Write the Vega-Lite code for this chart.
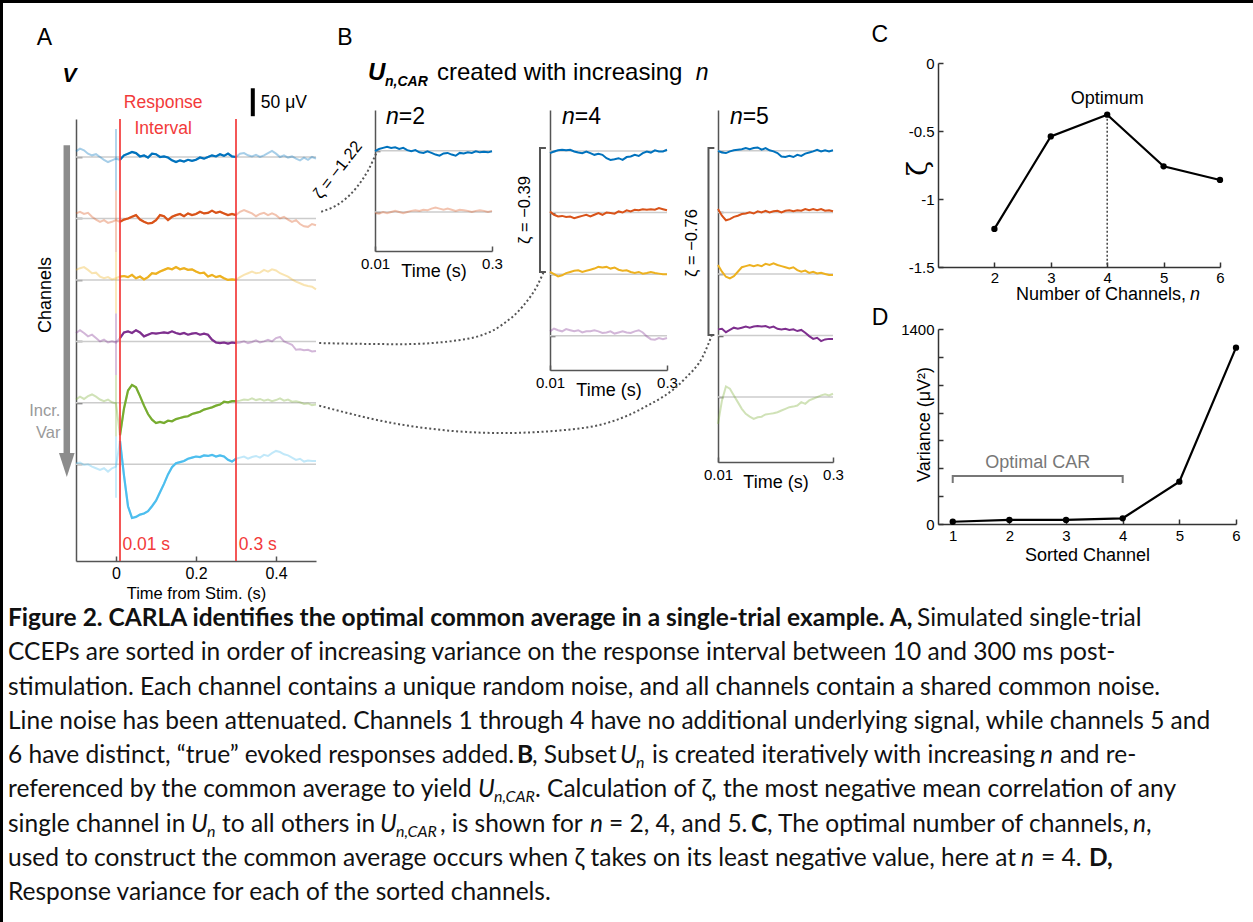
{
"$schema":"https://vega.github.io/schema/vega-lite/v6.json",
"width":1253,"height":922,"autosize":{"type":"none"},"padding":0,"background":"white",
"config":{"view":{"stroke":null},"axis":{"labelFont":"Liberation Sans","titleFont":"Liberation Sans","labelColor":"#000","titleColor":"#000","titleFontWeight":"normal","grid":false,"domainWidth":1.5,"tickWidth":1.5},"text":{"font":"Liberation Sans"}},
"datasets":{
"chans":[{"c":1},{"c":2},{"c":3},{"c":4},{"c":5},{"c":6}],
"trA":[
{"c":1,"t":-0.1,"v":10},{"c":1,"t":-0.09,"v":15},{"c":1,"t":-0.08,"v":12},{"c":1,"t":-0.07,"v":6},{"c":1,"t":-0.06,"v":3},{"c":1,"t":-0.05,"v":5},{"c":1,"t":-0.04,"v":0},{"c":1,"t":-0.03,"v":-5},{"c":1,"t":-0.02,"v":-9},{"c":1,"t":-0.01,"v":-6},{"c":1,"t":0,"v":-3},
{"c":1,"t":0.01,"v":-5},{"c":1,"t":0.02,"v":3},{"c":1,"t":0.03,"v":6},{"c":1,"t":0.04,"v":9},{"c":1,"t":0.05,"v":7},{"c":1,"t":0.06,"v":1},{"c":1,"t":0.07,"v":3},{"c":1,"t":0.08,"v":-1},{"c":1,"t":0.09,"v":6},{"c":1,"t":0.1,"v":5},
{"c":1,"t":0.11,"v":0},{"c":1,"t":0.12,"v":1},{"c":1,"t":0.13,"v":-1},{"c":1,"t":0.14,"v":-6},{"c":1,"t":0.15,"v":-9},{"c":1,"t":0.16,"v":-6},{"c":1,"t":0.17,"v":-8},{"c":1,"t":0.18,"v":-5},{"c":1,"t":0.19,"v":-7},{"c":1,"t":0.2,"v":-5},
{"c":1,"t":0.21,"v":-1},{"c":1,"t":0.22,"v":-3},{"c":1,"t":0.23,"v":0},{"c":1,"t":0.24,"v":3},{"c":1,"t":0.25,"v":1},{"c":1,"t":0.26,"v":5},{"c":1,"t":0.27,"v":2},{"c":1,"t":0.28,"v":6},{"c":1,"t":0.29,"v":1},{"c":1,"t":0.3,"v":0},
{"c":1,"t":0.31,"v":6},{"c":1,"t":0.32,"v":7},{"c":1,"t":0.33,"v":3},{"c":1,"t":0.34,"v":1},{"c":1,"t":0.35,"v":4},{"c":1,"t":0.36,"v":0},{"c":1,"t":0.37,"v":3},{"c":1,"t":0.38,"v":7},{"c":1,"t":0.39,"v":11},{"c":1,"t":0.4,"v":6},
{"c":1,"t":0.41,"v":0},{"c":1,"t":0.42,"v":3},{"c":1,"t":0.43,"v":-1},{"c":1,"t":0.44,"v":1},{"c":1,"t":0.45,"v":-3},{"c":1,"t":0.46,"v":-6},{"c":1,"t":0.47,"v":-1},{"c":1,"t":0.48,"v":-5},{"c":1,"t":0.49,"v":0},{"c":1,"t":0.5,"v":-3},
{"c":2,"t":-0.1,"v":9},{"c":2,"t":-0.09,"v":12},{"c":2,"t":-0.08,"v":8},{"c":2,"t":-0.07,"v":10},{"c":2,"t":-0.06,"v":3},{"c":2,"t":-0.05,"v":-2},{"c":2,"t":-0.04,"v":-6},{"c":2,"t":-0.03,"v":-3},{"c":2,"t":-0.02,"v":-8},{"c":2,"t":-0.01,"v":-6},{"c":2,"t":0,"v":-3},
{"c":2,"t":0.01,"v":-6},{"c":2,"t":0.02,"v":-2},{"c":2,"t":0.03,"v":0},{"c":2,"t":0.04,"v":3},{"c":2,"t":0.05,"v":6},{"c":2,"t":0.06,"v":-2},{"c":2,"t":0.07,"v":-6},{"c":2,"t":0.08,"v":-9},{"c":2,"t":0.09,"v":-8},{"c":2,"t":0.1,"v":-3},
{"c":2,"t":0.11,"v":6},{"c":2,"t":0.12,"v":4},{"c":2,"t":0.13,"v":-3},{"c":2,"t":0.14,"v":3},{"c":2,"t":0.15,"v":6},{"c":2,"t":0.16,"v":8},{"c":2,"t":0.17,"v":4},{"c":2,"t":0.18,"v":9},{"c":2,"t":0.19,"v":6},{"c":2,"t":0.2,"v":8},
{"c":2,"t":0.21,"v":12},{"c":2,"t":0.22,"v":9},{"c":2,"t":0.23,"v":10},{"c":2,"t":0.24,"v":14},{"c":2,"t":0.25,"v":10},{"c":2,"t":0.26,"v":12},{"c":2,"t":0.27,"v":9},{"c":2,"t":0.28,"v":6},{"c":2,"t":0.29,"v":8},{"c":2,"t":0.3,"v":6},
{"c":2,"t":0.31,"v":12},{"c":2,"t":0.32,"v":15},{"c":2,"t":0.33,"v":12},{"c":2,"t":0.34,"v":9},{"c":2,"t":0.35,"v":4},{"c":2,"t":0.36,"v":8},{"c":2,"t":0.37,"v":10},{"c":2,"t":0.38,"v":6},{"c":2,"t":0.39,"v":9},{"c":2,"t":0.4,"v":6},
{"c":2,"t":0.41,"v":0},{"c":2,"t":0.42,"v":3},{"c":2,"t":0.43,"v":-2},{"c":2,"t":0.44,"v":-6},{"c":2,"t":0.45,"v":-3},{"c":2,"t":0.46,"v":-10},{"c":2,"t":0.47,"v":-14},{"c":2,"t":0.48,"v":-15},{"c":2,"t":0.49,"v":-10},{"c":2,"t":0.5,"v":-12},
{"c":3,"t":-0.1,"v":18},{"c":3,"t":-0.09,"v":21},{"c":3,"t":-0.08,"v":23},{"c":3,"t":-0.07,"v":18},{"c":3,"t":-0.06,"v":12},{"c":3,"t":-0.05,"v":13},{"c":3,"t":-0.04,"v":6},{"c":3,"t":-0.03,"v":3},{"c":3,"t":-0.02,"v":5},{"c":3,"t":-0.01,"v":1},{"c":3,"t":0,"v":3},
{"c":3,"t":0.01,"v":6},{"c":3,"t":0.02,"v":7},{"c":3,"t":0.03,"v":5},{"c":3,"t":0.04,"v":9},{"c":3,"t":0.05,"v":3},{"c":3,"t":0.06,"v":6},{"c":3,"t":0.07,"v":1},{"c":3,"t":0.08,"v":5},{"c":3,"t":0.09,"v":12},{"c":3,"t":0.1,"v":11},
{"c":3,"t":0.11,"v":15},{"c":3,"t":0.12,"v":18},{"c":3,"t":0.13,"v":21},{"c":3,"t":0.14,"v":19},{"c":3,"t":0.15,"v":23},{"c":3,"t":0.16,"v":19},{"c":3,"t":0.17,"v":21},{"c":3,"t":0.18,"v":18},{"c":3,"t":0.19,"v":19},{"c":3,"t":0.2,"v":15},
{"c":3,"t":0.21,"v":12},{"c":3,"t":0.22,"v":13},{"c":3,"t":0.23,"v":6},{"c":3,"t":0.24,"v":9},{"c":3,"t":0.25,"v":5},{"c":3,"t":0.26,"v":7},{"c":3,"t":0.27,"v":3},{"c":3,"t":0.28,"v":0},{"c":3,"t":0.29,"v":1},{"c":3,"t":0.3,"v":0},
{"c":3,"t":0.31,"v":5},{"c":3,"t":0.32,"v":9},{"c":3,"t":0.33,"v":12},{"c":3,"t":0.34,"v":15},{"c":3,"t":0.35,"v":12},{"c":3,"t":0.36,"v":13},{"c":3,"t":0.37,"v":18},{"c":3,"t":0.38,"v":15},{"c":3,"t":0.39,"v":19},{"c":3,"t":0.4,"v":17},
{"c":3,"t":0.41,"v":12},{"c":3,"t":0.42,"v":9},{"c":3,"t":0.43,"v":6},{"c":3,"t":0.44,"v":1},{"c":3,"t":0.45,"v":-3},{"c":3,"t":0.46,"v":-6},{"c":3,"t":0.47,"v":-9},{"c":3,"t":0.48,"v":-11},{"c":3,"t":0.49,"v":-12},{"c":3,"t":0.5,"v":-17},
{"c":4,"t":-0.1,"v":15},{"c":4,"t":-0.09,"v":20},{"c":4,"t":-0.08,"v":15},{"c":4,"t":-0.07,"v":9},{"c":4,"t":-0.06,"v":12},{"c":4,"t":-0.05,"v":6},{"c":4,"t":-0.04,"v":0},{"c":4,"t":-0.03,"v":3},{"c":4,"t":-0.02,"v":-2},{"c":4,"t":-0.01,"v":0},{"c":4,"t":0,"v":-2},
{"c":4,"t":0.01,"v":6},{"c":4,"t":0.02,"v":16},{"c":4,"t":0.03,"v":18},{"c":4,"t":0.04,"v":15},{"c":4,"t":0.05,"v":20},{"c":4,"t":0.06,"v":16},{"c":4,"t":0.07,"v":9},{"c":4,"t":0.08,"v":12},{"c":4,"t":0.09,"v":15},{"c":4,"t":0.1,"v":14},
{"c":4,"t":0.11,"v":15},{"c":4,"t":0.12,"v":16},{"c":4,"t":0.13,"v":15},{"c":4,"t":0.14,"v":18},{"c":4,"t":0.15,"v":15},{"c":4,"t":0.16,"v":13},{"c":4,"t":0.17,"v":15},{"c":4,"t":0.18,"v":12},{"c":4,"t":0.19,"v":14},{"c":4,"t":0.2,"v":15},
{"c":4,"t":0.21,"v":12},{"c":4,"t":0.22,"v":14},{"c":4,"t":0.23,"v":12},{"c":4,"t":0.24,"v":3},{"c":4,"t":0.25,"v":-2},{"c":4,"t":0.26,"v":-3},{"c":4,"t":0.27,"v":-2},{"c":4,"t":0.28,"v":-4},{"c":4,"t":0.29,"v":-2},{"c":4,"t":0.3,"v":-3},
{"c":4,"t":0.31,"v":-2},{"c":4,"t":0.32,"v":0},{"c":4,"t":0.33,"v":-3},{"c":4,"t":0.34,"v":-1},{"c":4,"t":0.35,"v":2},{"c":4,"t":0.36,"v":-2},{"c":4,"t":0.37,"v":0},{"c":4,"t":0.38,"v":3},{"c":4,"t":0.39,"v":0},{"c":4,"t":0.4,"v":6},
{"c":4,"t":0.41,"v":8},{"c":4,"t":0.42,"v":0},{"c":4,"t":0.43,"v":-3},{"c":4,"t":0.44,"v":-6},{"c":4,"t":0.45,"v":-15},{"c":4,"t":0.46,"v":-14},{"c":4,"t":0.47,"v":-16},{"c":4,"t":0.48,"v":-15},{"c":4,"t":0.49,"v":-18},{"c":4,"t":0.5,"v":-17},
{"c":5,"t":-0.1,"v":6},{"c":5,"t":-0.09,"v":11},{"c":5,"t":-0.08,"v":7},{"c":5,"t":-0.07,"v":12},{"c":5,"t":-0.06,"v":15},{"c":5,"t":-0.05,"v":11},{"c":5,"t":-0.04,"v":6},{"c":5,"t":-0.03,"v":3},{"c":5,"t":-0.02,"v":6},{"c":5,"t":-0.01,"v":1},{"c":5,"t":0,"v":-1},
{"c":5,"t":0.01,"v":-58},{"c":5,"t":0.02,"v":-10},{"c":5,"t":0.03,"v":22},{"c":5,"t":0.04,"v":32},{"c":5,"t":0.05,"v":28},{"c":5,"t":0.06,"v":12},{"c":5,"t":0.07,"v":-5},{"c":5,"t":0.08,"v":-20},{"c":5,"t":0.09,"v":-30},{"c":5,"t":0.1,"v":-36},
{"c":5,"t":0.11,"v":-34},{"c":5,"t":0.12,"v":-36},{"c":5,"t":0.13,"v":-32},{"c":5,"t":0.14,"v":-33},{"c":5,"t":0.15,"v":-29},{"c":5,"t":0.16,"v":-27},{"c":5,"t":0.17,"v":-25},{"c":5,"t":0.18,"v":-24},{"c":5,"t":0.19,"v":-20},{"c":5,"t":0.2,"v":-18},
{"c":5,"t":0.21,"v":-16},{"c":5,"t":0.22,"v":-12},{"c":5,"t":0.23,"v":-10},{"c":5,"t":0.24,"v":-8},{"c":5,"t":0.25,"v":-5},{"c":5,"t":0.26,"v":-3},{"c":5,"t":0.27,"v":2},{"c":5,"t":0.28,"v":1},{"c":5,"t":0.29,"v":3},{"c":5,"t":0.3,"v":3},
{"c":5,"t":0.31,"v":4},{"c":5,"t":0.32,"v":6},{"c":5,"t":0.33,"v":5},{"c":5,"t":0.34,"v":8},{"c":5,"t":0.35,"v":5},{"c":5,"t":0.36,"v":7},{"c":5,"t":0.37,"v":4},{"c":5,"t":0.38,"v":6},{"c":5,"t":0.39,"v":3},{"c":5,"t":0.4,"v":5},
{"c":5,"t":0.41,"v":8},{"c":5,"t":0.42,"v":4},{"c":5,"t":0.43,"v":6},{"c":5,"t":0.44,"v":2},{"c":5,"t":0.45,"v":3},{"c":5,"t":0.46,"v":1},{"c":5,"t":0.47,"v":-2},{"c":5,"t":0.48,"v":-1},{"c":5,"t":0.49,"v":-4},{"c":5,"t":0.5,"v":-3},
{"c":6,"t":-0.1,"v":2},{"c":6,"t":-0.09,"v":3},{"c":6,"t":-0.08,"v":-1},{"c":6,"t":-0.07,"v":0},{"c":6,"t":-0.06,"v":-4},{"c":6,"t":-0.05,"v":-7},{"c":6,"t":-0.04,"v":-10},{"c":6,"t":-0.03,"v":-7},{"c":6,"t":-0.02,"v":-13},{"c":6,"t":-0.01,"v":-7},{"c":6,"t":0,"v":-4},
{"c":6,"t":0.01,"v":42},{"c":6,"t":0.02,"v":-20},{"c":6,"t":0.03,"v":-75},{"c":6,"t":0.04,"v":-96},{"c":6,"t":0.05,"v":-94},{"c":6,"t":0.06,"v":-90},{"c":6,"t":0.07,"v":-88},{"c":6,"t":0.08,"v":-84},{"c":6,"t":0.09,"v":-75},{"c":6,"t":0.1,"v":-65},
{"c":6,"t":0.11,"v":-50},{"c":6,"t":0.12,"v":-35},{"c":6,"t":0.13,"v":-18},{"c":6,"t":0.14,"v":-5},{"c":6,"t":0.15,"v":2},{"c":6,"t":0.16,"v":4},{"c":6,"t":0.17,"v":6},{"c":6,"t":0.18,"v":10},{"c":6,"t":0.19,"v":12},{"c":6,"t":0.2,"v":14},
{"c":6,"t":0.21,"v":13},{"c":6,"t":0.22,"v":16},{"c":6,"t":0.23,"v":15},{"c":6,"t":0.24,"v":17},{"c":6,"t":0.25,"v":14},{"c":6,"t":0.26,"v":16},{"c":6,"t":0.27,"v":14},{"c":6,"t":0.28,"v":8},{"c":6,"t":0.29,"v":5},{"c":6,"t":0.3,"v":10},
{"c":6,"t":0.31,"v":12},{"c":6,"t":0.32,"v":14},{"c":6,"t":0.33,"v":10},{"c":6,"t":0.34,"v":13},{"c":6,"t":0.35,"v":15},{"c":6,"t":0.36,"v":12},{"c":6,"t":0.37,"v":17},{"c":6,"t":0.38,"v":15},{"c":6,"t":0.39,"v":20},{"c":6,"t":0.4,"v":24},
{"c":6,"t":0.41,"v":22},{"c":6,"t":0.42,"v":18},{"c":6,"t":0.43,"v":16},{"c":6,"t":0.44,"v":12},{"c":6,"t":0.45,"v":8},{"c":6,"t":0.46,"v":10},{"c":6,"t":0.47,"v":5},{"c":6,"t":0.48,"v":7},{"c":6,"t":0.49,"v":6},{"c":6,"t":0.5,"v":6}
],
"trB":[
{"n":2,"c":1,"t":0.01,"v":-1},{"n":2,"c":1,"t":0.02,"v":3},{"n":2,"c":1,"t":0.03,"v":5},{"n":2,"c":1,"t":0.04,"v":7},{"n":2,"c":1,"t":0.05,"v":5},{"n":2,"c":1,"t":0.06,"v":6},{"n":2,"c":1,"t":0.07,"v":3},{"n":2,"c":1,"t":0.08,"v":5},{"n":2,"c":1,"t":0.09,"v":1},{"n":2,"c":1,"t":0.1,"v":-1},
{"n":2,"c":1,"t":0.11,"v":1},{"n":2,"c":1,"t":0.12,"v":-3},{"n":2,"c":1,"t":0.13,"v":-4},{"n":2,"c":1,"t":0.14,"v":-1},{"n":2,"c":1,"t":0.15,"v":-4},{"n":2,"c":1,"t":0.16,"v":-7},{"n":2,"c":1,"t":0.17,"v":-9},{"n":2,"c":1,"t":0.18,"v":-5},{"n":2,"c":1,"t":0.19,"v":-4},{"n":2,"c":1,"t":0.2,"v":-7},
{"n":2,"c":1,"t":0.21,"v":-9},{"n":2,"c":1,"t":0.22,"v":-4},{"n":2,"c":1,"t":0.23,"v":-5},{"n":2,"c":1,"t":0.24,"v":-3},{"n":2,"c":1,"t":0.25,"v":-4},{"n":2,"c":1,"t":0.26,"v":-1},{"n":2,"c":1,"t":0.27,"v":-3},{"n":2,"c":1,"t":0.28,"v":-2},{"n":2,"c":1,"t":0.29,"v":-3},{"n":2,"c":1,"t":0.3,"v":-1},
{"n":2,"c":2,"t":0.01,"v":-2},{"n":2,"c":2,"t":0.02,"v":-3},{"n":2,"c":2,"t":0.03,"v":0},{"n":2,"c":2,"t":0.04,"v":-2},{"n":2,"c":2,"t":0.05,"v":0},{"n":2,"c":2,"t":0.06,"v":2},{"n":2,"c":2,"t":0.07,"v":0},{"n":2,"c":2,"t":0.08,"v":-2},{"n":2,"c":2,"t":0.09,"v":0},{"n":2,"c":2,"t":0.1,"v":2},
{"n":2,"c":2,"t":0.11,"v":3},{"n":2,"c":2,"t":0.12,"v":2},{"n":2,"c":2,"t":0.13,"v":4},{"n":2,"c":2,"t":0.14,"v":3},{"n":2,"c":2,"t":0.15,"v":6},{"n":2,"c":2,"t":0.16,"v":8},{"n":2,"c":2,"t":0.17,"v":6},{"n":2,"c":2,"t":0.18,"v":4},{"n":2,"c":2,"t":0.19,"v":6},{"n":2,"c":2,"t":0.2,"v":4},
{"n":2,"c":2,"t":0.21,"v":2},{"n":2,"c":2,"t":0.22,"v":4},{"n":2,"c":2,"t":0.23,"v":3},{"n":2,"c":2,"t":0.24,"v":2},{"n":2,"c":2,"t":0.25,"v":0},{"n":2,"c":2,"t":0.26,"v":2},{"n":2,"c":2,"t":0.27,"v":3},{"n":2,"c":2,"t":0.28,"v":2},{"n":2,"c":2,"t":0.29,"v":0},{"n":2,"c":2,"t":0.3,"v":2},
{"n":4,"c":1,"t":0.01,"v":-4},{"n":4,"c":1,"t":0.02,"v":-1},{"n":4,"c":1,"t":0.03,"v":1},{"n":4,"c":1,"t":0.04,"v":2},{"n":4,"c":1,"t":0.05,"v":1},{"n":4,"c":1,"t":0.06,"v":2},{"n":4,"c":1,"t":0.07,"v":-1},{"n":4,"c":1,"t":0.08,"v":-3},{"n":4,"c":1,"t":0.09,"v":-4},{"n":4,"c":1,"t":0.1,"v":-1},
{"n":4,"c":1,"t":0.11,"v":-4},{"n":4,"c":1,"t":0.12,"v":-7},{"n":4,"c":1,"t":0.13,"v":-5},{"n":4,"c":1,"t":0.14,"v":-7},{"n":4,"c":1,"t":0.15,"v":-13},{"n":4,"c":1,"t":0.16,"v":-16},{"n":4,"c":1,"t":0.17,"v":-15},{"n":4,"c":1,"t":0.18,"v":-13},{"n":4,"c":1,"t":0.19,"v":-16},{"n":4,"c":1,"t":0.2,"v":-11},
{"n":4,"c":1,"t":0.21,"v":-10},{"n":4,"c":1,"t":0.22,"v":-7},{"n":4,"c":1,"t":0.23,"v":-9},{"n":4,"c":1,"t":0.24,"v":-4},{"n":4,"c":1,"t":0.25,"v":-1},{"n":4,"c":1,"t":0.26,"v":-3},{"n":4,"c":1,"t":0.27,"v":1},{"n":4,"c":1,"t":0.28,"v":-1},{"n":4,"c":1,"t":0.29,"v":-1},{"n":4,"c":1,"t":0.3,"v":2},
{"n":4,"c":2,"t":0.01,"v":2},{"n":4,"c":2,"t":0.02,"v":-4},{"n":4,"c":2,"t":0.03,"v":-7},{"n":4,"c":2,"t":0.04,"v":-6},{"n":4,"c":2,"t":0.05,"v":-8},{"n":4,"c":2,"t":0.06,"v":-7},{"n":4,"c":2,"t":0.07,"v":-10},{"n":4,"c":2,"t":0.08,"v":-8},{"n":4,"c":2,"t":0.09,"v":-6},{"n":4,"c":2,"t":0.1,"v":-4},
{"n":4,"c":2,"t":0.11,"v":-7},{"n":4,"c":2,"t":0.12,"v":-4},{"n":4,"c":2,"t":0.13,"v":-1},{"n":4,"c":2,"t":0.14,"v":-4},{"n":4,"c":2,"t":0.15,"v":0},{"n":4,"c":2,"t":0.16,"v":-1},{"n":4,"c":2,"t":0.17,"v":-2},{"n":4,"c":2,"t":0.18,"v":2},{"n":4,"c":2,"t":0.19,"v":0},{"n":4,"c":2,"t":0.2,"v":4},
{"n":4,"c":2,"t":0.21,"v":2},{"n":4,"c":2,"t":0.22,"v":5},{"n":4,"c":2,"t":0.23,"v":4},{"n":4,"c":2,"t":0.24,"v":6},{"n":4,"c":2,"t":0.25,"v":5},{"n":4,"c":2,"t":0.26,"v":6},{"n":4,"c":2,"t":0.27,"v":5},{"n":4,"c":2,"t":0.28,"v":8},{"n":4,"c":2,"t":0.29,"v":6},{"n":4,"c":2,"t":0.3,"v":4},
{"n":4,"c":3,"t":0.01,"v":4},{"n":4,"c":3,"t":0.02,"v":0},{"n":4,"c":3,"t":0.03,"v":-4},{"n":4,"c":3,"t":0.04,"v":-2},{"n":4,"c":3,"t":0.05,"v":2},{"n":4,"c":3,"t":0.06,"v":4},{"n":4,"c":3,"t":0.07,"v":6},{"n":4,"c":3,"t":0.08,"v":7},{"n":4,"c":3,"t":0.09,"v":4},{"n":4,"c":3,"t":0.1,"v":6},
{"n":4,"c":3,"t":0.11,"v":8},{"n":4,"c":3,"t":0.12,"v":10},{"n":4,"c":3,"t":0.13,"v":13},{"n":4,"c":3,"t":0.14,"v":12},{"n":4,"c":3,"t":0.15,"v":13},{"n":4,"c":3,"t":0.16,"v":10},{"n":4,"c":3,"t":0.17,"v":12},{"n":4,"c":3,"t":0.18,"v":8},{"n":4,"c":3,"t":0.19,"v":6},{"n":4,"c":3,"t":0.2,"v":7},
{"n":4,"c":3,"t":0.21,"v":4},{"n":4,"c":3,"t":0.22,"v":2},{"n":4,"c":3,"t":0.23,"v":4},{"n":4,"c":3,"t":0.24,"v":1},{"n":4,"c":3,"t":0.25,"v":2},{"n":4,"c":3,"t":0.26,"v":4},{"n":4,"c":3,"t":0.27,"v":2},{"n":4,"c":3,"t":0.28,"v":1},{"n":4,"c":3,"t":0.29,"v":0},{"n":4,"c":3,"t":0.3,"v":0},
{"n":4,"c":4,"t":0.01,"v":8},{"n":4,"c":4,"t":0.02,"v":13},{"n":4,"c":4,"t":0.03,"v":10},{"n":4,"c":4,"t":0.04,"v":8},{"n":4,"c":4,"t":0.05,"v":12},{"n":4,"c":4,"t":0.06,"v":10},{"n":4,"c":4,"t":0.07,"v":8},{"n":4,"c":4,"t":0.08,"v":10},{"n":4,"c":4,"t":0.09,"v":6},{"n":4,"c":4,"t":0.1,"v":8},
{"n":4,"c":4,"t":0.11,"v":8},{"n":4,"c":4,"t":0.12,"v":10},{"n":4,"c":4,"t":0.13,"v":8},{"n":4,"c":4,"t":0.14,"v":5},{"n":4,"c":4,"t":0.15,"v":6},{"n":4,"c":4,"t":0.16,"v":8},{"n":4,"c":4,"t":0.17,"v":4},{"n":4,"c":4,"t":0.18,"v":6},{"n":4,"c":4,"t":0.19,"v":8},{"n":4,"c":4,"t":0.2,"v":6},
{"n":4,"c":4,"t":0.21,"v":5},{"n":4,"c":4,"t":0.22,"v":8},{"n":4,"c":4,"t":0.23,"v":10},{"n":4,"c":4,"t":0.24,"v":6},{"n":4,"c":4,"t":0.25,"v":-1},{"n":4,"c":4,"t":0.26,"v":-6},{"n":4,"c":4,"t":0.27,"v":-7},{"n":4,"c":4,"t":0.28,"v":-4},{"n":4,"c":4,"t":0.29,"v":-6},{"n":4,"c":4,"t":0.3,"v":-4},
{"n":5,"c":1,"t":0.01,"v":0},{"n":5,"c":1,"t":0.02,"v":-3},{"n":5,"c":1,"t":0.03,"v":-4},{"n":5,"c":1,"t":0.04,"v":-1},{"n":5,"c":1,"t":0.05,"v":1},{"n":5,"c":1,"t":0.06,"v":2},{"n":5,"c":1,"t":0.07,"v":3},{"n":5,"c":1,"t":0.08,"v":5},{"n":5,"c":1,"t":0.09,"v":3},{"n":5,"c":1,"t":0.1,"v":5},
{"n":5,"c":1,"t":0.11,"v":6},{"n":5,"c":1,"t":0.12,"v":2},{"n":5,"c":1,"t":0.13,"v":5},{"n":5,"c":1,"t":0.14,"v":1},{"n":5,"c":1,"t":0.15,"v":-1},{"n":5,"c":1,"t":0.16,"v":-4},{"n":5,"c":1,"t":0.17,"v":-10},{"n":5,"c":1,"t":0.18,"v":-11},{"n":5,"c":1,"t":0.19,"v":-9},{"n":5,"c":1,"t":0.2,"v":-11},
{"n":5,"c":1,"t":0.21,"v":-7},{"n":5,"c":1,"t":0.22,"v":-9},{"n":5,"c":1,"t":0.23,"v":-5},{"n":5,"c":1,"t":0.24,"v":-3},{"n":5,"c":1,"t":0.25,"v":-1},{"n":5,"c":1,"t":0.26,"v":2},{"n":5,"c":1,"t":0.27,"v":-1},{"n":5,"c":1,"t":0.28,"v":1},{"n":5,"c":1,"t":0.29,"v":-1},{"n":5,"c":1,"t":0.3,"v":1},
{"n":5,"c":2,"t":0.01,"v":6},{"n":5,"c":2,"t":0.02,"v":-6},{"n":5,"c":2,"t":0.03,"v":-14},{"n":5,"c":2,"t":0.04,"v":-12},{"n":5,"c":2,"t":0.05,"v":-8},{"n":5,"c":2,"t":0.06,"v":-6},{"n":5,"c":2,"t":0.07,"v":-3},{"n":5,"c":2,"t":0.08,"v":-2},{"n":5,"c":2,"t":0.09,"v":0},{"n":5,"c":2,"t":0.1,"v":-2},
{"n":5,"c":2,"t":0.11,"v":2},{"n":5,"c":2,"t":0.12,"v":0},{"n":5,"c":2,"t":0.13,"v":3},{"n":5,"c":2,"t":0.14,"v":0},{"n":5,"c":2,"t":0.15,"v":2},{"n":5,"c":2,"t":0.16,"v":3},{"n":5,"c":2,"t":0.17,"v":0},{"n":5,"c":2,"t":0.18,"v":3},{"n":5,"c":2,"t":0.19,"v":4},{"n":5,"c":2,"t":0.2,"v":2},
{"n":5,"c":2,"t":0.21,"v":4},{"n":5,"c":2,"t":0.22,"v":3},{"n":5,"c":2,"t":0.23,"v":6},{"n":5,"c":2,"t":0.24,"v":4},{"n":5,"c":2,"t":0.25,"v":6},{"n":5,"c":2,"t":0.26,"v":4},{"n":5,"c":2,"t":0.27,"v":6},{"n":5,"c":2,"t":0.28,"v":3},{"n":5,"c":2,"t":0.29,"v":4},{"n":5,"c":2,"t":0.3,"v":2},
{"n":5,"c":3,"t":0.01,"v":16},{"n":5,"c":3,"t":0.02,"v":4},{"n":5,"c":3,"t":0.03,"v":-5},{"n":5,"c":3,"t":0.04,"v":-8},{"n":5,"c":3,"t":0.05,"v":-4},{"n":5,"c":3,"t":0.06,"v":4},{"n":5,"c":3,"t":0.07,"v":12},{"n":5,"c":3,"t":0.08,"v":14},{"n":5,"c":3,"t":0.09,"v":16},{"n":5,"c":3,"t":0.1,"v":14},
{"n":5,"c":3,"t":0.11,"v":16},{"n":5,"c":3,"t":0.12,"v":14},{"n":5,"c":3,"t":0.13,"v":18},{"n":5,"c":3,"t":0.14,"v":16},{"n":5,"c":3,"t":0.15,"v":19},{"n":5,"c":3,"t":0.16,"v":16},{"n":5,"c":3,"t":0.17,"v":14},{"n":5,"c":3,"t":0.18,"v":12},{"n":5,"c":3,"t":0.19,"v":10},{"n":5,"c":3,"t":0.2,"v":12},
{"n":5,"c":3,"t":0.21,"v":7},{"n":5,"c":3,"t":0.22,"v":4},{"n":5,"c":3,"t":0.23,"v":6},{"n":5,"c":3,"t":0.24,"v":2},{"n":5,"c":3,"t":0.25,"v":4},{"n":5,"c":3,"t":0.26,"v":1},{"n":5,"c":3,"t":0.27,"v":2},{"n":5,"c":3,"t":0.28,"v":0},{"n":5,"c":3,"t":0.29,"v":-2},{"n":5,"c":3,"t":0.3,"v":-2},
{"n":5,"c":4,"t":0.01,"v":11},{"n":5,"c":4,"t":0.02,"v":12},{"n":5,"c":4,"t":0.03,"v":6},{"n":5,"c":4,"t":0.04,"v":10},{"n":5,"c":4,"t":0.05,"v":14},{"n":5,"c":4,"t":0.06,"v":12},{"n":5,"c":4,"t":0.07,"v":14},{"n":5,"c":4,"t":0.08,"v":16},{"n":5,"c":4,"t":0.09,"v":14},{"n":5,"c":4,"t":0.1,"v":16},
{"n":5,"c":4,"t":0.11,"v":17},{"n":5,"c":4,"t":0.12,"v":16},{"n":5,"c":4,"t":0.13,"v":17},{"n":5,"c":4,"t":0.14,"v":14},{"n":5,"c":4,"t":0.15,"v":16},{"n":5,"c":4,"t":0.16,"v":12},{"n":5,"c":4,"t":0.17,"v":11},{"n":5,"c":4,"t":0.18,"v":12},{"n":5,"c":4,"t":0.19,"v":10},{"n":5,"c":4,"t":0.2,"v":11},
{"n":5,"c":4,"t":0.21,"v":8},{"n":5,"c":4,"t":0.22,"v":10},{"n":5,"c":4,"t":0.23,"v":5},{"n":5,"c":4,"t":0.24,"v":-1},{"n":5,"c":4,"t":0.25,"v":-6},{"n":5,"c":4,"t":0.26,"v":-4},{"n":5,"c":4,"t":0.27,"v":-10},{"n":5,"c":4,"t":0.28,"v":-7},{"n":5,"c":4,"t":0.29,"v":-6},{"n":5,"c":4,"t":0.3,"v":-6},
{"n":5,"c":5,"t":0.01,"v":-48},{"n":5,"c":5,"t":0.02,"v":-6},{"n":5,"c":5,"t":0.03,"v":19},{"n":5,"c":5,"t":0.04,"v":15},{"n":5,"c":5,"t":0.05,"v":3},{"n":5,"c":5,"t":0.06,"v":-9},{"n":5,"c":5,"t":0.07,"v":-21},{"n":5,"c":5,"t":0.08,"v":-30},{"n":5,"c":5,"t":0.09,"v":-35},{"n":5,"c":5,"t":0.1,"v":-39},
{"n":5,"c":5,"t":0.11,"v":-36},{"n":5,"c":5,"t":0.12,"v":-35},{"n":5,"c":5,"t":0.13,"v":-31},{"n":5,"c":5,"t":0.14,"v":-30},{"n":5,"c":5,"t":0.15,"v":-29},{"n":5,"c":5,"t":0.16,"v":-27},{"n":5,"c":5,"t":0.17,"v":-24},{"n":5,"c":5,"t":0.18,"v":-21},{"n":5,"c":5,"t":0.19,"v":-18},{"n":5,"c":5,"t":0.2,"v":-17},
{"n":5,"c":5,"t":0.21,"v":-15},{"n":5,"c":5,"t":0.22,"v":-9},{"n":5,"c":5,"t":0.23,"v":-12},{"n":5,"c":5,"t":0.24,"v":-6},{"n":5,"c":5,"t":0.25,"v":-3},{"n":5,"c":5,"t":0.26,"v":0},{"n":5,"c":5,"t":0.27,"v":3},{"n":5,"c":5,"t":0.28,"v":5},{"n":5,"c":5,"t":0.29,"v":3},{"n":5,"c":5,"t":0.3,"v":6}
],
"zeta":[{"n":2,"z":-1.22},{"n":3,"z":-0.54},{"n":4,"z":-0.38},{"n":5,"z":-0.76},{"n":6,"z":-0.86}],
"variance":[{"ch":1,"var":16},{"ch":2,"var":29},{"ch":3,"var":29},{"ch":4,"var":41},{"ch":5,"var":304},{"ch":6,"var":1266}]
},
"layer":[
{
"encoding":{
"x":{"field":"t","type":"quantitative","scale":{"domain":[-0.1,0.5],"range":[76,316],"nice":false,"zero":false},"axis":{"orient":"bottom","offset":-361,"values":[0,0.2,0.4],"format":"~g","labelFlush":false,"tickSize":-5,"labelPadding":17,"labelBaseline":"middle","labelFontSize":16,"title":"Time from Stim. (s)","titleFontSize":16.5,"titleY":32,"titleBaseline":"middle","domainColor":"#555","tickColor":"#555"}},
"y":{"field":"y","type":"quantitative","scale":{"domain":[-723,68],"range":[561,119],"nice":false,"zero":false},"axis":{"orient":"left","offset":-76,"values":[0,-110,-220,-330,-440,-550],"labels":false,"tickSize":-6,"title":null,"domainColor":"#555","tickColor":"#555"}}
},
"layer":[
{"data":{"name":"chans"},"transform":[{"calculate":"-110*(datum.c-1)","as":"y"},{"calculate":"-0.1","as":"t"},{"calculate":"0.5","as":"t2"}],"mark":{"type":"rule","color":"#cccccc","strokeWidth":1.5},"encoding":{"x2":{"field":"t2"}}},
{"data":{"name":"chans"},"transform":[{"calculate":"-110*(datum.c-1)+50","as":"y"},{"calculate":"-110*(datum.c-1)-60","as":"y2"},{"calculate":"0","as":"t"}],"mark":{"type":"rule","strokeWidth":1.5,"opacity":0.4},"encoding":{"y2":{"field":"y2"},"color":{"field":"c","type":"nominal","scale":{"domain":[1,2,3,4,5,6],"range":["#0072BD","#D95319","#EDB120","#7E2F8E","#77AC30","#4DBEEE"]},"legend":null}}},
{"data":{"name":"trA"},"transform":[{"calculate":"datum.v-110*(datum.c-1)","as":"y"}],"mark":{"type":"line","strokeWidth":2,"opacity":0.35},"encoding":{"color":{"field":"c","type":"nominal","scale":{"domain":[1,2,3,4,5,6],"range":["#0072BD","#D95319","#EDB120","#7E2F8E","#77AC30","#4DBEEE"]},"legend":null}}},
{"data":{"name":"trA"},"transform":[{"filter":"datum.t >= 0.01 && datum.t <= 0.3"},{"calculate":"datum.v-110*(datum.c-1)","as":"y"}],"mark":{"type":"line","strokeWidth":2.2},"encoding":{"color":{"field":"c","type":"nominal","scale":{"domain":[1,2,3,4,5,6],"range":["#0072BD","#D95319","#EDB120","#7E2F8E","#77AC30","#4DBEEE"]},"legend":null}}},
{"data":{"values":[{"t":0.01},{"t":0.3}]},"transform":[{"calculate":"-723","as":"y"},{"calculate":"68","as":"y2"}],"mark":{"type":"rule","color":"#F23A3A","strokeWidth":2,"opacity":0.85},"encoding":{"y2":{"field":"y2"}}},
{"data":{"values":[{"t":0.118,"y":97,"s":"Response"},{"t":0.118,"y":50,"s":"Interval"}]},"mark":{"type":"text","fontSize":17.5,"color":"#F23A3A","align":"center","baseline":"middle"},"encoding":{"text":{"field":"s"}}},
{"data":{"values":[{"t":0.016,"y":-694,"s":"0.01 s"},{"t":0.307,"y":-694,"s":"0.3 s"}]},"mark":{"type":"text","fontSize":17.5,"color":"#F23A3A","align":"left","baseline":"middle"},"encoding":{"text":{"field":"s"}}},
{"data":{"values":[{"t":0.342,"y":73,"y2":123}]},"mark":{"type":"rule","color":"black","strokeWidth":4},"encoding":{"y2":{"field":"y2"}}},
{"data":{"values":[{"t":0.362,"y":97,"s":"50 μV"}]},"mark":{"type":"text","fontSize":17.5,"align":"left","baseline":"middle"},"encoding":{"text":{"field":"s"}}},
{"data":{"values":[{"t":-0.123,"y":21,"y2":-531}]},"mark":{"type":"rule","color":"#8c8c8c","strokeWidth":6.5},"encoding":{"y2":{"field":"y2"}}},
{"data":{"values":[{"t":-0.123,"y":-551}]},"mark":{"type":"point","shape":"M-0.65,-1L0.65,-1L0,1Z","size":576,"filled":true,"color":"#8c8c8c","opacity":1}},
{"data":{"values":[{"t":-0.176,"y":-247,"s":"Channels"}]},"mark":{"type":"text","fontSize":18,"angle":270,"align":"center","baseline":"middle"},"encoding":{"text":{"field":"s"}}},
{"data":{"values":[{"t":-0.139,"y":-454,"s":"Incr."},{"t":-0.139,"y":-494,"s":"Var"}]},"mark":{"type":"text","fontSize":16.5,"color":"#9a9a9a","align":"right","baseline":"middle"},"encoding":{"text":{"field":"s"}}},
{"data":{"values":[{"t":-0.179,"y":213,"s":"A"}]},"mark":{"type":"text","fontSize":23,"align":"center","baseline":"middle"},"encoding":{"text":{"field":"s"}}},
{"data":{"values":[{"t":-0.116,"y":145,"s":"V"}]},"mark":{"type":"text","fontSize":21,"fontWeight":"bold","fontStyle":"italic","align":"center","baseline":"middle"},"encoding":{"text":{"field":"s"}}},
{"data":{"values":[
{"k":1,"t":0.513,"y":-98},{"k":1,"t":0.563,"y":-81},{"k":1,"t":0.601,"y":-55},{"k":1,"t":0.631,"y":-23},{"k":1,"t":0.652,"y":9},
{"k":2,"t":0.508,"y":-333},{"k":2,"t":0.714,"y":-335},{"k":2,"t":0.865,"y":-327},{"k":2,"t":0.966,"y":-300},{"k":2,"t":1.016,"y":-268},{"k":2,"t":1.054,"y":-229},{"k":2,"t":1.069,"y":-206},
{"k":3,"t":0.508,"y":-445},{"k":3,"t":0.714,"y":-479},{"k":3,"t":0.966,"y":-494},{"k":3,"t":1.167,"y":-485},{"k":3,"t":1.318,"y":-449},{"k":3,"t":1.419,"y":-399},{"k":3,"t":1.469,"y":-354},{"k":3,"t":1.489,"y":-320}]},
"mark":{"type":"line","strokeDash":[2,2.5],"strokeWidth":2,"color":"#555","interpolate":"monotone"},"encoding":{"detail":{"field":"k"}}}
]
},
{
"encoding":{
"x":{"field":"t","type":"quantitative","scale":{"domain":[0.01,0.3],"range":[375,492],"nice":false,"zero":false},"axis":{"orient":"bottom","offset":-671,"values":[0.01,0.3],"format":"~g","labelFlush":false,"tickSize":-5,"labelPadding":17,"labelBaseline":"middle","labelFontSize":15,"title":"Time (s)","titleFontSize":18,"titleY":20,"titleBaseline":"middle","domainColor":"#555","tickColor":"#555"}},
"y":{"field":"y","type":"quantitative","scale":{"domain":[-180,73],"range":[251,110],"nice":false,"zero":false},"axis":{"orient":"left","offset":-375,"values":[0,-110],"labels":false,"tickSize":-5,"title":null,"domainColor":"#555","tickColor":"#555"}}
},
"layer":[
{"data":{"name":"trB"},"transform":[{"filter":"datum.n == 2 && datum.t == 0.01"},{"calculate":"-110*(datum.c-1)","as":"y"},{"calculate":"0.3","as":"t2"}],"mark":{"type":"rule","color":"#cccccc","strokeWidth":1.5},"encoding":{"x2":{"field":"t2"}}},
{"data":{"name":"trB"},"transform":[{"filter":"datum.n == 2"},{"calculate":"datum.v-110*(datum.c-1)","as":"y"}],"mark":{"type":"line","strokeWidth":2},"encoding":{"color":{"field":"c","type":"nominal","scale":{"domain":[1,2,3,4,5,6],"range":["#0072BD","#D95319","#EDB120","#7E2F8E","#77AC30","#4DBEEE"]},"legend":null},"opacity":{"condition":{"test":"datum.c == datum.n","value":0.35},"value":1}}},
{"data":{"values":[{"t":0.0373,"y":60.4,"s":"n"},{"t":0.805,"y":139.4,"s":"n"}]},"mark":{"type":"text","fontSize":23,"fontStyle":"italic","align":"left","baseline":"middle"},"encoding":{"text":{"field":"s"}}},
{"data":{"values":[{"t":0.069,"y":60.4,"s":"=2"}]},"mark":{"type":"text","fontSize":23,"align":"left","baseline":"middle"},"encoding":{"text":{"field":"s"}}},
{"data":{"values":[{"t":-0.0644,"y":202,"s":"B"}]},"mark":{"type":"text","fontSize":23,"align":"center","baseline":"middle"},"encoding":{"text":{"field":"s"}}},
{"data":{"values":[{"t":-0.0074,"y":139.4,"s":"U"}]},"mark":{"type":"text","fontSize":24,"fontWeight":"bold","fontStyle":"italic","align":"left","baseline":"middle"},"encoding":{"text":{"field":"s"}}},
{"data":{"values":[{"t":0.0348,"y":123,"s":"n,CAR"}]},"mark":{"type":"text","fontSize":14,"fontWeight":"bold","fontStyle":"italic","align":"left","baseline":"middle"},"encoding":{"text":{"field":"s"}}},
{"data":{"values":[{"t":0.1637,"y":139.4,"s":"created with increasing"}]},"mark":{"type":"text","fontSize":24,"align":"left","baseline":"middle"},"encoding":{"text":{"field":"s"}}},
{"data":{"values":[{"t":-0.0817,"y":-34.7,"s":"ζ = −1.22"}]},"mark":{"type":"text","fontSize":16.5,"angle":-52,"align":"center","baseline":"middle"},"encoding":{"text":{"field":"s"}}}
]
},
{
"encoding":{
"x":{"field":"t","type":"quantitative","scale":{"domain":[0.01,0.3],"range":[550,667],"nice":false,"zero":false},"axis":{"orient":"bottom","offset":-552,"values":[0.01,0.3],"format":"~g","labelFlush":false,"tickSize":-5,"labelPadding":17,"labelBaseline":"middle","labelFontSize":15,"title":"Time (s)","titleFontSize":18,"titleY":20,"titleBaseline":"middle","domainColor":"#555","tickColor":"#555"}},
"y":{"field":"y","type":"quantitative","scale":{"domain":[-391,73],"range":[370,110],"nice":false,"zero":false},"axis":{"orient":"left","offset":-550,"values":[0,-110,-220,-330],"labels":false,"tickSize":-5,"title":null,"domainColor":"#555","tickColor":"#555"}}
},
"layer":[
{"data":{"name":"trB"},"transform":[{"filter":"datum.n == 4 && datum.t == 0.01"},{"calculate":"-110*(datum.c-1)","as":"y"},{"calculate":"0.3","as":"t2"}],"mark":{"type":"rule","color":"#cccccc","strokeWidth":1.5},"encoding":{"x2":{"field":"t2"}}},
{"data":{"name":"trB"},"transform":[{"filter":"datum.n == 4"},{"calculate":"datum.v-110*(datum.c-1)","as":"y"}],"mark":{"type":"line","strokeWidth":2},"encoding":{"color":{"field":"c","type":"nominal","scale":{"domain":[1,2,3,4,5,6],"range":["#0072BD","#D95319","#EDB120","#7E2F8E","#77AC30","#4DBEEE"]},"legend":null},"opacity":{"condition":{"test":"datum.c == datum.n","value":0.35},"value":1}}},
{"data":{"values":[{"t":0.0397,"y":60.5,"s":"n"}]},"mark":{"type":"text","fontSize":23,"fontStyle":"italic","align":"left","baseline":"middle"},"encoding":{"text":{"field":"s"}}},
{"data":{"values":[{"t":0.0715,"y":60.5,"s":"=4"}]},"mark":{"type":"text","fontSize":23,"align":"left","baseline":"middle"},"encoding":{"text":{"field":"s"}}},
{"data":{"values":[{"i":1,"t":-0.0001,"y":5},{"i":2,"t":-0.0148,"y":5},{"i":3,"t":-0.0148,"y":-216},{"i":4,"t":-0.0001,"y":-216}]},"mark":{"type":"line","color":"#555","strokeWidth":2},"encoding":{"order":{"field":"i"}}},
{"data":{"values":[{"t":-0.052,"y":-105.5,"s":"ζ = −0.39"}]},"mark":{"type":"text","fontSize":16.5,"angle":270,"align":"center","baseline":"middle"},"encoding":{"text":{"field":"s"}}}
]
},
{
"encoding":{
"x":{"field":"t","type":"quantitative","scale":{"domain":[0.01,0.3],"range":[718,833],"nice":false,"zero":false},"axis":{"orient":"bottom","offset":-460,"values":[0.01,0.3],"format":"~g","labelFlush":false,"tickSize":-5,"labelPadding":17,"labelBaseline":"middle","labelFontSize":15,"title":"Time (s)","titleFontSize":18,"titleY":20,"titleBaseline":"middle","domainColor":"#555","tickColor":"#555"}},
"y":{"field":"y","type":"quantitative","scale":{"domain":[-556,73],"range":[462,110],"nice":false,"zero":false},"axis":{"orient":"left","offset":-718,"values":[0,-110,-220,-330,-440],"labels":false,"tickSize":-5,"title":null,"domainColor":"#555","tickColor":"#555"}}
},
"layer":[
{"data":{"name":"trB"},"transform":[{"filter":"datum.n == 5 && datum.t == 0.01"},{"calculate":"-110*(datum.c-1)","as":"y"},{"calculate":"0.3","as":"t2"}],"mark":{"type":"rule","color":"#cccccc","strokeWidth":1.5},"encoding":{"x2":{"field":"t2"}}},
{"data":{"name":"trB"},"transform":[{"filter":"datum.n == 5"},{"calculate":"datum.v-110*(datum.c-1)","as":"y"}],"mark":{"type":"line","strokeWidth":2},"encoding":{"color":{"field":"c","type":"nominal","scale":{"domain":[1,2,3,4,5,6],"range":["#0072BD","#D95319","#EDB120","#7E2F8E","#77AC30","#4DBEEE"]},"legend":null},"opacity":{"condition":{"test":"datum.c == datum.n","value":0.35},"value":1}}},
{"data":{"values":[{"t":0.0405,"y":60.5,"s":"n"}]},"mark":{"type":"text","fontSize":23,"fontStyle":"italic","align":"left","baseline":"middle"},"encoding":{"text":{"field":"s"}}},
{"data":{"values":[{"t":0.0722,"y":60.5,"s":"=5"}]},"mark":{"type":"text","fontSize":23,"align":"left","baseline":"middle"},"encoding":{"text":{"field":"s"}}},
{"data":{"values":[{"i":1,"t":0.0008,"y":5},{"i":2,"t":-0.014,"y":5},{"i":3,"t":-0.014,"y":-329},{"i":4,"t":0.0008,"y":-329}]},"mark":{"type":"line","color":"#555","strokeWidth":2},"encoding":{"order":{"field":"i"}}},
{"data":{"values":[{"t":-0.0562,"y":-164.7,"s":"ζ = −0.76"}]},"mark":{"type":"text","fontSize":16.5,"angle":270,"align":"center","baseline":"middle"},"encoding":{"text":{"field":"s"}}}
]
},
{
"encoding":{
"x":{"field":"n","type":"quantitative","scale":{"domain":[1,6],"range":[938,1220],"nice":false,"zero":false},"axis":{"orient":"bottom","offset":-655,"values":[2,3,4,5,6],"format":"d","labelFlush":false,"tickSize":-5,"labelPadding":15,"labelBaseline":"middle","labelFontSize":15,"title":null,"domainColor":"#333","tickColor":"#333"}},
"y":{"field":"z","type":"quantitative","scale":{"domain":[-1.5,0],"range":[267,63],"nice":false,"zero":false},"axis":{"orient":"left","offset":-938,"values":[0,-0.5,-1,-1.5],"labelExpr":"datum.value == 0 ? '0' : '-' + format(abs(datum.value), '~g')","tickSize":-5,"labelPadding":9,"labelFontSize":15,"title":"ζ","titleFont":"DejaVu Serif","titleFontSize":27,"titleX":-20,"titleY":168,"titleAlign":"center","titleBaseline":"middle","domainColor":"#333","tickColor":"#333"}}
},
"layer":[
{"data":{"name":"zeta"},"transform":[{"filter":"datum.n == 4"},{"calculate":"-1.5","as":"z2"}],"mark":{"type":"rule","color":"#444","strokeWidth":1.5,"strokeDash":[2,2]},"encoding":{"y2":{"field":"z2"}}},
{"data":{"name":"zeta"},"mark":{"type":"line","color":"black","strokeWidth":2.2}},
{"data":{"name":"zeta"},"mark":{"type":"point","filled":true,"color":"black","size":40,"opacity":1}},
{"data":{"values":[{"n":4,"z":-0.265,"s":"Optimum"}]},"mark":{"type":"text","fontSize":18,"align":"center","baseline":"middle"},"encoding":{"text":{"field":"s"}}},
{"data":{"values":[{"n":-0.03,"z":0.206,"s":"C"}]},"mark":{"type":"text","fontSize":23,"align":"center","baseline":"middle"},"encoding":{"text":{"field":"s"}}},
{"data":{"values":[{"n":5.397,"z":-1.706,"s":"Number of Channels,"}]},"mark":{"type":"text","fontSize":18,"align":"right","baseline":"middle"},"encoding":{"text":{"field":"s"}}},
{"data":{"values":[{"n":5.468,"z":-1.706,"s":"n"}]},"mark":{"type":"text","fontSize":18,"fontStyle":"italic","align":"left","baseline":"middle"},"encoding":{"text":{"field":"s"}}}
]
},
{
"encoding":{
"x":{"field":"ch","type":"quantitative","scale":{"domain":[0.74,6],"range":[938,1236],"nice":false,"zero":false},"axis":{"orient":"bottom","offset":-398,"values":[1,2,3,4,5,6],"format":"d","labelFlush":false,"tickSize":-5,"labelPadding":16,"labelBaseline":"middle","labelFontSize":15,"title":"Sorted Channel","titleFontSize":18,"titleY":31,"titleBaseline":"middle","domainColor":"#333","tickColor":"#333"}},
"y":{"field":"var","type":"quantitative","scale":{"domain":[0,1400],"range":[524,329],"nice":false,"zero":false},"axis":{"orient":"left","offset":-938,"values":[0,200,400,600,800,1000,1200,1400],"labelExpr":"datum.value == 0 || datum.value == 1400 ? datum.value + '' : ''","tickSize":-5,"labelPadding":9,"labelFontSize":15,"title":"Variance (μV²)","titleFontSize":18,"titleX":-14,"titleY":424,"titleAlign":"center","titleBaseline":"middle","domainColor":"#333","tickColor":"#333"}}
},
"layer":[
{"data":{"name":"variance"},"mark":{"type":"line","color":"black","strokeWidth":2.2}},
{"data":{"name":"variance"},"mark":{"type":"point","filled":true,"color":"black","size":40,"opacity":1}},
{"data":{"values":[{"i":1,"ch":1,"var":294},{"i":2,"ch":1,"var":345},{"i":3,"ch":4,"var":345},{"i":4,"ch":4,"var":294}]},"mark":{"type":"line","color":"#777","strokeWidth":2},"encoding":{"order":{"field":"i"}}},
{"data":{"values":[{"ch":2.5,"var":438,"s":"Optimal CAR"}]},"mark":{"type":"text","fontSize":18,"color":"#777","align":"center","baseline":"middle"},"encoding":{"text":{"field":"s"}}},
{"data":{"values":[{"ch":-0.284,"var":1479,"s":"D"}]},"mark":{"type":"text","fontSize":23,"align":"center","baseline":"middle"},"encoding":{"text":{"field":"s"}}}
]
},
{
"encoding":{
"x":{"field":"x","type":"quantitative","scale":{"domain":[0,1253],"range":[0,1253],"nice":false,"zero":false},"axis":null},
"y":{"field":"l","type":"quantitative","scale":{"domain":[1,9],"range":[619,893],"nice":false,"zero":false},"axis":null},
"text":{"field":"s"}
},
"layer":[
{"data":{"values":[
{"l":1,"x":917,"s":"Simulated single-trial"},
{"l":2,"x":8,"s":"CCEPs are sorted in order of increasing variance on the response interval between 10 and 300 ms post-"},
{"l":3,"x":8,"s":"stimulation. Each channel contains a unique random noise, and all channels contain a shared common noise."},
{"l":4,"x":8,"s":"Line noise has been attenuated. Channels 1 through 4 have no additional underlying signal, while channels 5 and"},
{"l":5,"x":8,"s":"6 have distinct, “true” evoked responses added."},
{"l":5,"x":532,"s":", Subset"},
{"l":5,"x":652,"s":"is created iteratively with increasing"},
{"l":5,"x":1060,"s":"and re-"},
{"l":6,"x":8,"s":"referenced by the common average to yield"},
{"l":6,"x":535,"s":". Calculation of ζ, the most negative mean correlation of any"},
{"l":7,"x":8,"s":"single channel in"},
{"l":7,"x":222,"s":"to all others in"},
{"l":7,"x":440,"s":", is shown for"},
{"l":7,"x":609,"s":"= 2, 4, and 5."},
{"l":7,"x":767,"s":", The optimal number of channels,"},
{"l":7,"x":1146,"s":","},
{"l":8,"x":8,"s":"used to construct the common average occurs when ζ takes on its least negative value, here at"},
{"l":8,"x":1041,"s":"= 4."},
{"l":9,"x":8,"s":"Response variance for each of the sorted channels."}
]},"mark":{"type":"text","font":"Lato","fontSize":24.5,"align":"left","baseline":"middle","color":"#111"}},
{"data":{"values":[
{"l":1,"x":8,"s":"Figure 2. CARLA identifies the optimal common average in a single-trial example. A,"},
{"l":5,"x":517,"s":"B"},
{"l":7,"x":751,"s":"C"},
{"l":8,"x":1089,"s":"D,"}
]},"mark":{"type":"text","font":"Lato","fontSize":24.5,"fontWeight":"bold","align":"left","baseline":"middle","color":"#111"}},
{"data":{"values":[
{"l":5,"x":620,"s":"U"},{"l":5,"x":1040,"s":"n"},{"l":6,"x":478,"s":"U"},{"l":7,"x":191,"s":"U"},{"l":7,"x":380,"s":"U"},{"l":7,"x":590,"s":"n"},{"l":7,"x":1133,"s":"n"},{"l":8,"x":1021,"s":"n"}
]},"mark":{"type":"text","font":"Lato","fontSize":24.5,"fontStyle":"italic","align":"left","baseline":"middle","color":"#111"}},
{"data":{"values":[
{"l":5,"x":636,"s":"n"},{"l":6,"x":494,"s":"n,CAR"},{"l":7,"x":207,"s":"n"},{"l":7,"x":396,"s":"n,CAR"}
]},"mark":{"type":"text","font":"Lato","fontSize":16,"fontStyle":"italic","align":"left","baseline":"middle","dy":7,"color":"#111"}}
]
},
{"data":{"values":[{"fx":1.5}]},"mark":{"type":"rule","color":"black","strokeWidth":3},"encoding":{"x":{"field":"fx","type":"quantitative","scale":{"domain":[0,1253],"range":[0,1253],"nice":false,"zero":false},"axis":null}}},
{"data":{"values":[{"fy":1.5}]},"mark":{"type":"rule","color":"black","strokeWidth":3},"encoding":{"y":{"field":"fy","type":"quantitative","scale":{"domain":[0,922],"range":[0,922],"nice":false,"zero":false},"axis":null}}}
],
"resolve":{"scale":{"x":"independent","y":"independent"},"axis":{"x":"independent","y":"independent"}}
}
